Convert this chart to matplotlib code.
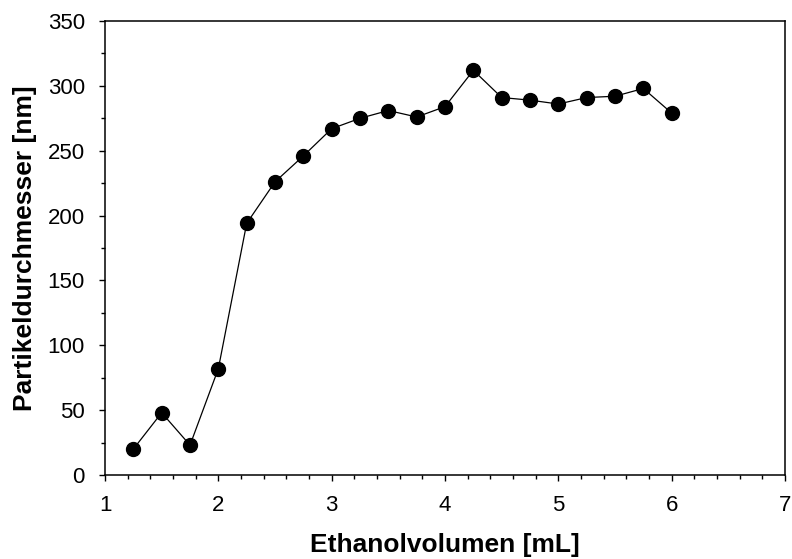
import numpy as np
import matplotlib
matplotlib.use("Agg")
import matplotlib.pyplot as plt
from matplotlib.ticker import MultipleLocator

plt.rcParams['font.family'] = ['Liberation Sans', 'DejaVu Sans']

# Ethanolvolumen [mL] und Partikeldurchmesser [nm]
volumen = [1.25, 1.5, 1.75, 2.0, 2.25, 2.5, 2.75, 3.0, 3.25, 3.5,
           3.75, 4.0, 4.25, 4.5, 4.75, 5.0, 5.25, 5.5, 5.75, 6.0]
durchmesser = [20, 48, 23, 82, 194, 226, 246, 267, 275, 281,
               276, 284, 312, 291, 289, 286, 291, 292, 298, 279]

fig = plt.figure(figsize=(7.92, 5.59), dpi=100)
ax = fig.add_axes([0.1326, 0.1503, 0.8586, 0.8121])

ax.plot(volumen, durchmesser, color='black', lw=0.9, marker='o',
        markersize=10, markerfacecolor='black', markeredgecolor='black')

ax.set_xlim(1, 7)
ax.set_ylim(0, 350)
ax.xaxis.set_major_locator(MultipleLocator(1))
ax.xaxis.set_minor_locator(MultipleLocator(0.2))
ax.yaxis.set_major_locator(MultipleLocator(50))
ax.yaxis.set_minor_locator(MultipleLocator(25))

ax.tick_params(which='both', direction='out', top=False, right=False,
               labelsize=16, width=1)
ax.tick_params(which='major', length=4.5)
ax.tick_params(which='minor', length=3)
ax.tick_params(axis='x', which='major', pad=10)
ax.tick_params(axis='y', which='major', pad=10)
for s in ax.spines.values():
    s.set_linewidth(1.1)

ax.set_xlabel('Ethanolvolumen [mL]', fontsize=19, fontweight='bold', labelpad=12)
ax.set_ylabel('Partikeldurchmesser [nm]', fontsize=19, fontweight='bold', labelpad=8)

fig.savefig('out.png', dpi=100)
